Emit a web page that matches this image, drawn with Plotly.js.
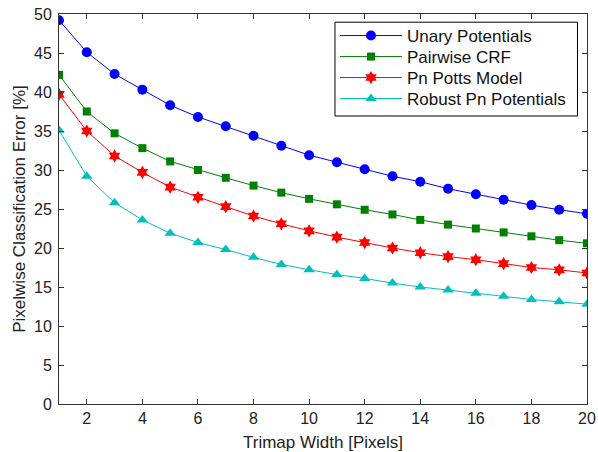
<!DOCTYPE html>
<html><head><meta charset="utf-8">
<script src="https://cdn.plot.ly/plotly-3.0.1.min.js"></script>
<style>body{margin:0;background:#fff}#c{width:598px;height:452px}</style>
</head><body><div id="c"></div>
<script>
const trimapWidth = [1,2,3,4,5,6,7,8,9,10,11,12,13,14,15,16,17,18,19,20];
const unary    = [49.2,45.1,42.3,40.3,38.3,36.8,35.6,34.4,33.1,31.9,31.0,30.1,29.2,28.5,27.6,26.9,26.2,25.5,24.9,24.4];
const pairwise = [42.2,37.5,34.7,32.8,31.1,30.0,29.0,28.0,27.1,26.3,25.6,24.9,24.3,23.6,23.0,22.5,22.0,21.5,21.0,20.6];
const pnPotts  = [39.7,35.0,31.8,29.7,27.8,26.5,25.3,24.1,23.1,22.2,21.4,20.7,20.0,19.4,18.9,18.5,18.0,17.5,17.2,16.8];
const robustPn = [35.1,29.2,25.8,23.6,21.9,20.7,19.8,18.8,17.9,17.2,16.6,16.1,15.5,15.0,14.6,14.2,13.8,13.4,13.1,12.8];
const names = ["Unary Potentials","Pairwise CRF","Pn Potts Model","Robust Pn Potentials"];

function tr(y, name, color, symbol, size, lg){
  return {x: trimapWidth, y: y, name: name, mode: 'lines+markers', type: 'scatter', legend: lg,
    line: {color: color, width: 1}, marker: {color: color, symbol: symbol, size: size, line:{width:0}}};
}
const data = [
  tr(unary, names[0], '#0000ff', 'circle', 10, 'legend'),
  tr(pairwise, names[1], '#008000', 'square', 8, 'legend2'),
  tr(pnPotts, names[2], '#ff0000', 'hexagram', 10, 'legend3'),
  tr(robustPn, names[3], '#00bfbf', 'triangle-up', 10, 'legend4')
];
const fam = 'Liberation Sans, Arial, sans-serif';
const tickFont = {family: fam, size: 16, color: '#222'};
const titleFont = {family: fam, size: 17, color: '#222'};
const legFont = {family: fam, size: 17, color: '#111'};
function leg(yc){
  return {x: 0.5227, y: yc, xanchor: 'left', yanchor: 'middle', bgcolor: 'rgba(0,0,0,0)',
    borderwidth: 0, font: legFont, itemwidth: 62};
}
const layout = {
  width: 598, height: 452,
  margin: {l: 59, r: 11, t: 14, b: 48},
  paper_bgcolor: '#fff', plot_bgcolor: '#fff',
  font: tickFont,
  showlegend: true,
  legend: leg(0.9436), legend2: leg(0.8897), legend3: leg(0.8359), legend4: leg(0.7821),
  shapes: [{type: 'rect', xref: 'paper', yref: 'paper', x0: 0.5227, x1: 0.982, y0: 0.7385, y1: 0.979,
    line: {color: '#000', width: 1}, fillcolor: '#fff', layer: 'above'}],
  xaxis: {range: [1, 20], tickmode: 'array', tickvals: [2,4,6,8,10,12,14,16,18,20],
    ticks: 'inside', ticklen: 5, tickcolor: '#333', showline: true, linecolor: '#333', linewidth: 1,
    mirror: 'ticks', showgrid: false, zeroline: false, tickfont: tickFont,
    title: {text: 'Trimap Width [Pixels]', font: titleFont, standoff: 14}},
  yaxis: {range: [0, 50], dtick: 5, ticks: 'inside', ticklen: 5, tickcolor: '#333',
    showline: true, linecolor: '#333', linewidth: 1, mirror: 'ticks', showgrid: false, zeroline: false,
    tickfont: tickFont, ticklabelstandoff: 3,
    title: {text: 'Pixelwise Classification Error [%]', font: titleFont, standoff: 4}}
};
Plotly.newPlot('c', data, layout, {displayModeBar: false});
</script></body></html>
